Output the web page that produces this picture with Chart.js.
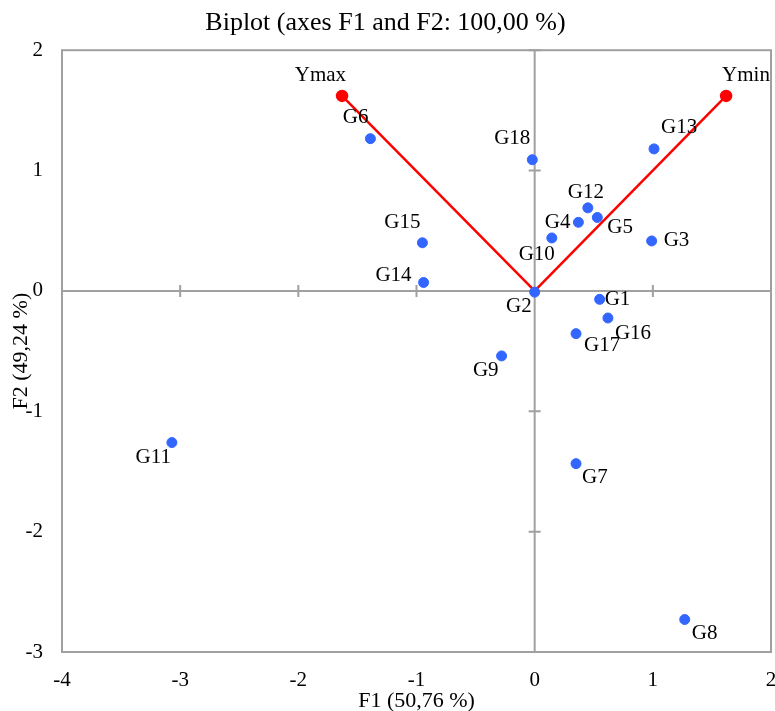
<!DOCTYPE html>
<html>
<head>
<meta charset="utf-8">
<script src="https://cdn.jsdelivr.net/npm/chart.js@4.4.0/dist/chart.umd.min.js"></script>
<style>
  body { margin: 0; background: #fff; }
</style>
</head>
<body>
<canvas id="biplot" width="775" height="711"></canvas>
<script>
// genotype scores on F1 / F2
const genoNames = ["G1", "G2", "G3", "G4", "G5", "G6", "G7", "G8", "G9", "G10",
                   "G11", "G12", "G13", "G14", "G15", "G16", "G17", "G18"];
const genoF1 = [0.55, 0.00, 0.99, 0.37, 0.53, -1.39, 0.35, 1.27, -0.28, 0.145,
                -3.07, 0.45, 1.01, -0.94, -0.95, 0.62, 0.35, -0.02];
const genoF2 = [-0.07, -0.01, 0.415, 0.57, 0.61, 1.265, -1.435, -2.73, -0.54, 0.44,
                -1.26, 0.69, 1.18, 0.07, 0.40, -0.225, -0.355, 1.09];

// variable vectors
const traitNames = ["Ymax", "Ymin"];
const traitF1 = [-1.63, 1.62];
const traitF2 = [1.62, 1.62];

const xTicks = [-4, -3, -2, -1, 0, 1, 2];
const yTicks = [-3, -2, -1, 0, 1, 2];

const serif = "'Liberation Serif', 'Times New Roman', serif";
const axisGray = "#a0a0a0";

// where each label sits relative to its point: [dx, dy, align]
const labelPlace = {
    Ymax: [4, -20, "right"], Ymin: [-4, -20, "left"],
    G1: [5, 0, "left"], G2: [-3, 14, "right"], G3: [12, 0, "left"],
    G4: [-8, 0, "right"], G5: [10, 10, "left"], G6: [-2, -21, "right"],
    G7: [6, 14, "left"], G8: [7, 14, "left"], G9: [-3, 15, "right"],
    G10: [3, 17, "right"], G11: [-1, 15, "right"], G12: [-2, -15, "center"],
    G13: [7, -21, "left"], G14: [-12, -7, "right"], G15: [-2, -20, "right"],
    G16: [7, 15, "left"], G17: [8, 12, "left"], G18: [-2, -21, "right"]
};

const centerAxes = {
    id: "centerAxes",
    beforeDatasetsDraw(chart) {
        const { ctx, chartArea: a, scales: { x, y } } = chart;
        const x0 = x.getPixelForValue(0), y0 = y.getPixelForValue(0);
        ctx.save();
        ctx.strokeStyle = axisGray;
        ctx.lineWidth = 2;
        ctx.strokeRect(a.left, a.top, a.right - a.left, a.bottom - a.top);
        ctx.beginPath();
        ctx.moveTo(x0, a.top); ctx.lineTo(x0, a.bottom);
        ctx.moveTo(a.left, y0); ctx.lineTo(a.right, y0);
        xTicks.forEach(v => {
            const px = x.getPixelForValue(v);
            ctx.moveTo(px, y0 - 6); ctx.lineTo(px, y0 + 6);
        });
        yTicks.forEach(v => {
            const py = y.getPixelForValue(v);
            ctx.moveTo(x0 - 6, py); ctx.lineTo(x0 + 6, py);
        });
        ctx.stroke();
        ctx.restore();
    }
};

const pointLabels = {
    id: "pointLabels",
    afterDatasetsDraw(chart) {
        const { ctx } = chart;
        ctx.save();
        ctx.font = "21px " + serif;
        ctx.fillStyle = "#000";
        ctx.textBaseline = "middle";
        const put = (name, el) => {
            const p = labelPlace[name] || [6, 0, "left"];
            ctx.textAlign = p[2];
            ctx.fillText(name, el.x + p[0], el.y + p[1]);
        };
        chart.getDatasetMeta(0).data.forEach((el, i) => put(genoNames[i], el));
        traitNames.forEach((n, i) => put(n, chart.getDatasetMeta(i + 1).data[1]));
        ctx.restore();
    }
};

new Chart(document.getElementById("biplot"), {
    type: "scatter",
    data: {
        datasets: [
            {
                label: "Genotypes",
                data: genoNames.map((n, i) => ({ x: genoF1[i], y: genoF2[i] })),
                backgroundColor: "#3366ff",
                borderColor: "#3366ff",
                pointRadius: 5,
                order: 0
            },
            ...traitNames.map((n, i) => ({
                label: n,
                data: [{ x: 0, y: 0 }, { x: traitF1[i], y: traitF2[i] }],
                showLine: true,
                borderColor: "#ff0000",
                backgroundColor: "#ff0000",
                borderWidth: 2.5,
                pointRadius: [0, 5],
                order: 1
            }))
        ]
    },
    options: {
        responsive: false,
        animation: false,
        layout: { autoPadding: false, padding: { left: 0, right: 4, top: 0, bottom: -3 } },
        plugins: {
            legend: { display: false },
            tooltip: { enabled: false },
            title: {
                display: true,
                text: "Biplot (axes F1 and F2: 100,00 %)",
                color: "#000",
                font: { family: serif, size: 26, weight: "normal" },
                padding: { top: 8, bottom: 11 }
            }
        },
        scales: {
            x: {
                type: "linear",
                min: -4, max: 2,
                afterBuildTicks: s => { s.ticks = xTicks.map(v => ({ value: v })); },
                afterFit: s => { s.height = 62; s.paddingLeft = 0; s.paddingRight = 0; },
                ticks: { color: "#000", font: { family: serif, size: 21 }, padding: 16 },
                grid: { display: false, drawTicks: false },
                border: { display: false },
                title: {
                    display: true, text: "F1 (50,76 %)", color: "#000",
                    font: { family: serif, size: 22 }, padding: 0
                }
            },
            y: {
                type: "linear",
                min: -3, max: 2,
                afterBuildTicks: s => { s.ticks = yTicks.map(v => ({ value: v })); },
                afterFit: s => { s.width = 62; s.paddingTop = 0; s.paddingBottom = 0; },
                ticks: { color: "#000", font: { family: serif, size: 21 }, padding: 19 },
                grid: { display: false, drawTicks: false },
                border: { display: false },
                title: {
                    display: true, text: "F2 (49,24 %)", color: "#000",
                    font: { family: serif, size: 22 }, padding: { top: 8, bottom: 0 }
                }
            }
        }
    },
    plugins: [centerAxes, pointLabels]
});
</script>
</body>
</html>
